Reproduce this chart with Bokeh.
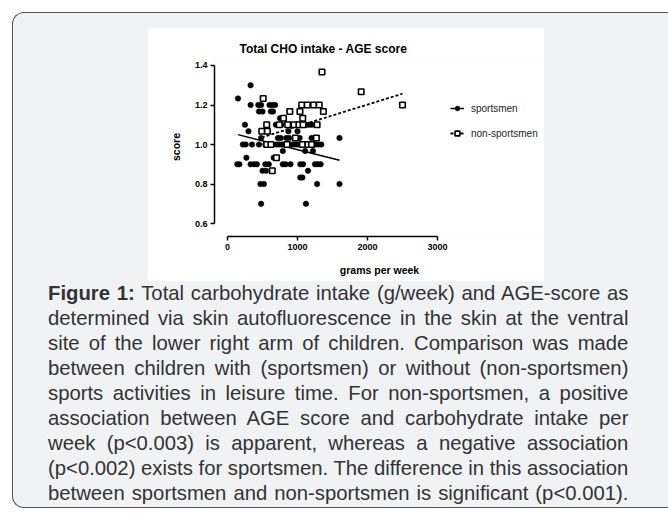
from bokeh.plotting import figure
from bokeh.models import (Range1d, FixedTicker, NumeralTickFormatter, Legend,
                          LegendItem, Div, ColumnDataSource)
from bokeh.layouts import column
from bokeh.embed import file_html
from bokeh.resources import INLINE

FONT = "Liberation Sans"

# ---------------- data ----------------
sport_x = [330,
           150,
           330, 440, 480, 600, 640, 680,
           450, 500, 620, 650, 890,
           750, 800,
           250, 690, 730, 770, 1000, 1120, 1160, 1200, 1250,
           300, 560, 870, 1000,
           480, 720, 760, 840, 880, 1030, 1200, 1600,
           220, 260, 350, 450, 540, 640, 700, 740, 780, 820, 860, 900, 940, 980,
           1020, 1060, 1100, 1140, 1180, 1220, 1260, 1300, 1340,
           790, 1110, 1220,
           270, 660,
           140, 170, 330, 380, 420, 540, 590, 790, 830, 900, 1040, 1080, 1250, 1290, 1330,
           500, 550, 1150,
           1040, 1070,
           470, 520, 1280, 1600,
           480, 1120]
sport_y = [1.30,
           1.233,
           1.2, 1.2, 1.2, 1.2, 1.2, 1.2,
           1.167, 1.167, 1.167, 1.167, 1.167,
           1.133, 1.133,
           1.1, 1.1, 1.1, 1.1, 1.1, 1.1, 1.1, 1.1, 1.1,
           1.067, 1.067, 1.067, 1.067,
           1.033, 1.033, 1.033, 1.033, 1.033, 1.033, 1.033, 1.033,
           1.0, 1.0, 1.0, 1.0, 1.0, 1.0, 1.0, 1.0, 1.0, 1.0, 1.0, 1.0, 1.0, 1.0,
           1.0, 1.0, 1.0, 1.0, 1.0, 1.0, 1.0, 1.0, 1.0,
           0.967, 0.967, 0.967,
           0.933, 0.933,
           0.9, 0.9, 0.9, 0.9, 0.9, 0.9, 0.9, 0.9, 0.9, 0.9, 0.9, 0.9, 0.9, 0.9, 0.9,
           0.867, 0.867, 0.867,
           0.833, 0.833,
           0.8, 0.8, 0.8, 0.8,
           0.7, 0.7]

non_x = [1350, 1910, 2500, 510, 1060, 1140, 1230, 1310, 890, 1035, 1370, 800, 1075,
         560, 740, 860, 950, 1020, 1080, 1280, 490, 570, 970, 1270,
         560, 620, 850, 1070, 1150, 1200, 700, 640]
non_y = [1.367, 1.267, 1.2, 1.233, 1.2, 1.2, 1.2, 1.2, 1.167, 1.167, 1.167, 1.133, 1.133,
         1.1, 1.1, 1.1, 1.1, 1.1, 1.1, 1.1, 1.067, 1.067, 1.033, 1.033,
         1.0, 1.0, 1.0, 1.0, 1.0, 1.0, 0.933, 0.867]

# fitted regression lines (end points)
sport_fit_x = [150, 1600]
sport_fit_y = [1.05, 0.92]
non_fit_x = [490, 2500]
non_fit_y = [1.036, 1.257]

x_ticks = [0, 1000, 2000, 3000]
y_ticks = [0.6, 0.8, 1.0, 1.2, 1.4]

title_text = "Total CHO intake - AGE score"
x_label = "grams per week"
y_label = "score"
series_names = ["sportsmen", "non-sportsmen"]

caption_lines = [
    "<b>Figure 1:</b> Total carbohydrate intake (g/week) and AGE-score as",
    "determined via skin autofluorescence in the skin at the ventral",
    "site of the lower right arm of children. Comparison was made",
    "between children with (sportsmen) or without (non-sportsmen)",
    "sports activities in leisure time. For non-sportsmen, a positive",
    "association between AGE score and carbohydrate intake per",
    "week (p&lt;0.003) is apparent, whereas a negative association",
    "(p&lt;0.002) exists for sportsmen. The difference in this association",
    "between sportsmen and non-sportsmen is significant (p&lt;0.001).",
]

# ---------------- figure ----------------
p = figure(width=397, height=254, output_backend="svg", toolbar_location=None,
           x_range=Range1d(-185.7, 4528.6), y_range=Range1d(0.5342, 1.4405),
           min_border_left=67, min_border_right=0, min_border_top=30, min_border_bottom=45,
           title=title_text)
p.margin = (14, 0, 0, 134)
p.background_fill_color = "white"
p.border_fill_color = "white"
p.outline_line_color = None
p.xgrid.visible = False
p.ygrid.visible = False

p.title.text_font = FONT
p.title.text_font_size = "12px"
p.title.text_font_style = "bold"
p.title.text_color = "black"
p.title.align = "left"
p.title.offset = 25
p.title.standoff = 4

for ax in (p.xaxis[0], p.yaxis[0]):
    ax.axis_line_width = 1.5
    ax.axis_line_color = "black"
    ax.major_tick_line_width = 1.5
    ax.major_tick_line_color = "black"
    ax.major_tick_in = 0
    ax.major_tick_out = 4
    ax.minor_tick_line_color = None
    ax.major_label_text_font = FONT
    ax.major_label_text_font_size = "9px"
    ax.major_label_text_font_style = "bold"
    ax.major_label_text_color = "black"
    ax.axis_label_text_font = FONT
    ax.axis_label_text_font_size = "10.5px"
    ax.axis_label_text_font_style = "bold"
    ax.axis_label_text_color = "black"
    ax.major_label_standoff = 3

p.xaxis[0].ticker = FixedTicker(ticks=x_ticks)
p.xaxis[0].bounds = (x_ticks[0], x_ticks[-1])
p.xaxis[0].formatter = NumeralTickFormatter(format="0")
p.xaxis[0].axis_label = x_label
p.xaxis[0].axis_label_standoff = 11

p.yaxis[0].ticker = FixedTicker(ticks=y_ticks)
p.yaxis[0].bounds = (y_ticks[0], y_ticks[-1])
p.yaxis[0].formatter = NumeralTickFormatter(format="0.0")
p.yaxis[0].axis_label = y_label
p.yaxis[0].axis_label_standoff = 10

src_s = ColumnDataSource(dict(x=sport_x, y=sport_y))
src_n = ColumnDataSource(dict(x=non_x, y=non_y))

l_s = p.line(sport_fit_x, sport_fit_y, line_color="black", line_width=1.5)
l_n = p.line(non_fit_x, non_fit_y, line_color="black", line_width=1.8, line_dash="3 2")
s_s = p.scatter("x", "y", source=src_s, marker="circle", size=5.5,
                fill_color="black", line_color="black", line_width=0.5)
s_n = p.scatter("x", "y", source=src_n, marker="square", size=5.5,
                fill_color="white", line_color="black", line_width=1.6)

legend = Legend(items=[LegendItem(label=series_names[0], renderers=[l_s, s_s]),
                       LegendItem(label=series_names[1], renderers=[l_n, s_n])],
                location=(236, 97), orientation="vertical")
legend.padding = 0
legend.margin = 0
legend.spacing = 13
legend.glyph_width = 14
legend.glyph_height = 12
legend.label_height = 12
legend.label_standoff = 7
legend.label_text_font = FONT
legend.label_text_font_size = "10px"
legend.label_text_color = "#222222"
legend.border_line_color = None
legend.background_fill_alpha = 0
p.add_layout(legend)

# ---------------- caption ----------------
html = "".join(
    f'<div style="text-align:justify;text-align-last:justify;">{ln}</div>'
    for ln in caption_lines)
caption = Div(text=html, width=596, margin=(0, 0, 0, 35),
              styles={"font-family": "'Liberation Sans', Arial, sans-serif",
                      "font-size": "20.3px", "line-height": "25px",
                      "color": "#333333"})

box = column(p, caption, width=656, height=496, margin=(12, 0, 0, 12),
             styles={"background-color": "#f1f2f4", "border": "1px solid #555555",
                     "border-right": "none",
                     "border-radius": "12px 0 0 12px", "box-sizing": "border-box"})

open("out.html", "w").write(file_html(box, INLINE))
